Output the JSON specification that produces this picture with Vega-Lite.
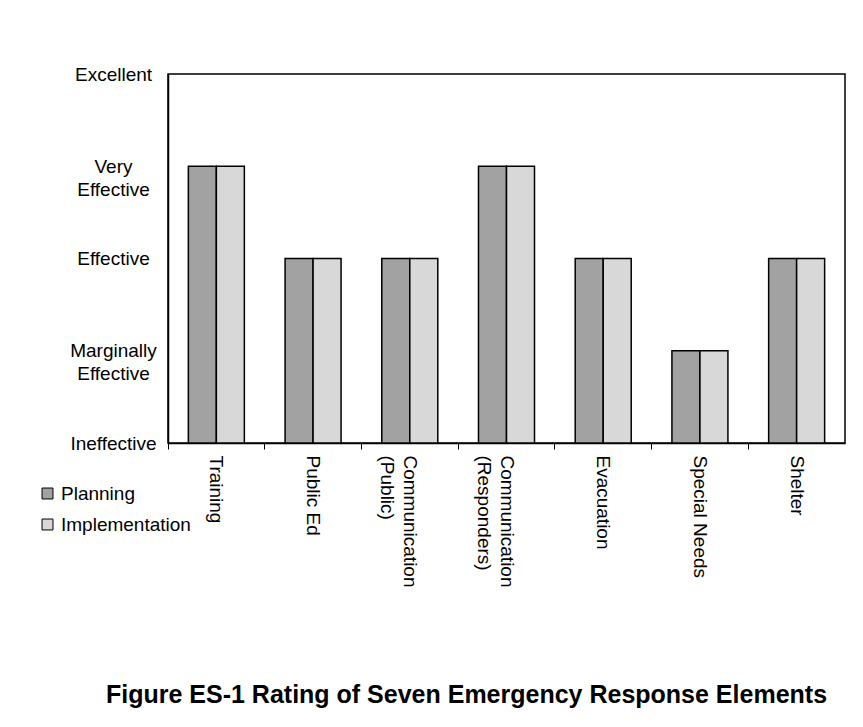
{
  "$schema": "https://vega.github.io/schema/vega-lite/v6.json",
  "width": 677,
  "height": 369,
  "autosize": {"type": "none"},
  "padding": {"left": 168, "top": 74, "right": 18, "bottom": 284},
  "background": "white",
  "title": {
    "text": "Figure ES-1 Rating of Seven Emergency Response Elements",
    "orient": "bottom",
    "anchor": "middle",
    "font": "Liberation Sans",
    "fontSize": 25,
    "fontWeight": "bold",
    "color": "black",
    "offset": 96,
    "dx": -40
  },
  "data": {
    "values": [
      {"element": "Training", "series": "Planning", "rating": 3},
      {"element": "Training", "series": "Implementation", "rating": 3},
      {"element": "Public Ed", "series": "Planning", "rating": 2},
      {"element": "Public Ed", "series": "Implementation", "rating": 2},
      {"element": "Communication (Public)", "series": "Planning", "rating": 2},
      {"element": "Communication (Public)", "series": "Implementation", "rating": 2},
      {"element": "Communication (Responders)", "series": "Planning", "rating": 3},
      {"element": "Communication (Responders)", "series": "Implementation", "rating": 3},
      {"element": "Evacuation", "series": "Planning", "rating": 2},
      {"element": "Evacuation", "series": "Implementation", "rating": 2},
      {"element": "Special Needs", "series": "Planning", "rating": 1},
      {"element": "Special Needs", "series": "Implementation", "rating": 1},
      {"element": "Shelter", "series": "Planning", "rating": 2},
      {"element": "Shelter", "series": "Implementation", "rating": 2}
    ]
  },
  "mark": {"type": "bar", "stroke": "black", "strokeWidth": 1.5},
  "encoding": {
    "x": {
      "field": "element",
      "type": "nominal",
      "sort": null,
      "scale": {"paddingInner": 0, "paddingOuter": 0},
      "axis": {
        "title": null,
        "labelAngle": 90,
        "labelAlign": "left",
        "labelBaseline": "middle",
        "labelPadding": 6,
        "labelFont": "Liberation Sans",
        "labelFontSize": 19,
        "labelColor": "black",
        "labelLineHeight": 23,
        "labelExpr": "indexof(datum.label, '(') > 0 ? [substring(datum.label, 0, indexof(datum.label, '(') - 1), substring(datum.label, indexof(datum.label, '('))] : datum.label",
        "bandPosition": 0,
        "ticks": true,
        "tickSize": 6,
        "tickColor": "black",
        "domainColor": "black",
        "domainWidth": 1.5,
        "grid": false
      }
    },
    "xOffset": {
      "field": "series",
      "type": "nominal",
      "sort": ["Planning", "Implementation"],
      "scale": {"paddingInner": 0, "paddingOuter": 0.727}
    },
    "y": {
      "field": "rating",
      "type": "quantitative",
      "scale": {"domain": [0, 4], "nice": false},
      "axis": {
        "title": null,
        "values": [0, 1, 2, 3, 4],
        "labelExpr": "datum.value == 0 ? 'Ineffective' : datum.value == 1 ? ['Marginally', 'Effective'] : datum.value == 2 ? 'Effective' : datum.value == 3 ? ['Very', 'Effective'] : 'Excellent'",
        "labelAlign": "center",
        "labelBaseline": "middle",
        "labelPadding": 55,
        "labelFont": "Liberation Sans",
        "labelFontSize": 19,
        "labelColor": "black",
        "labelLineHeight": 23,
        "ticks": false,
        "domainColor": "black",
        "domainWidth": 1.5,
        "grid": false
      }
    },
    "color": {
      "field": "series",
      "type": "nominal",
      "sort": ["Planning", "Implementation"],
      "scale": {"domain": ["Planning", "Implementation"], "range": ["#a2a2a2", "#d8d8d8"]},
      "legend": {
        "title": null,
        "orient": "none",
        "legendX": -130,
        "legendY": 410,
        "symbolType": "square",
        "symbolSize": 120,
        "symbolStrokeColor": "black",
        "symbolStrokeWidth": 1,
        "labelFont": "Liberation Sans",
        "labelFontSize": 19,
        "labelColor": "black",
        "labelOffset": 4,
        "rowPadding": 11
      }
    }
  },
  "config": {
    "view": {"stroke": "black", "strokeWidth": 1.5}
  }
}
